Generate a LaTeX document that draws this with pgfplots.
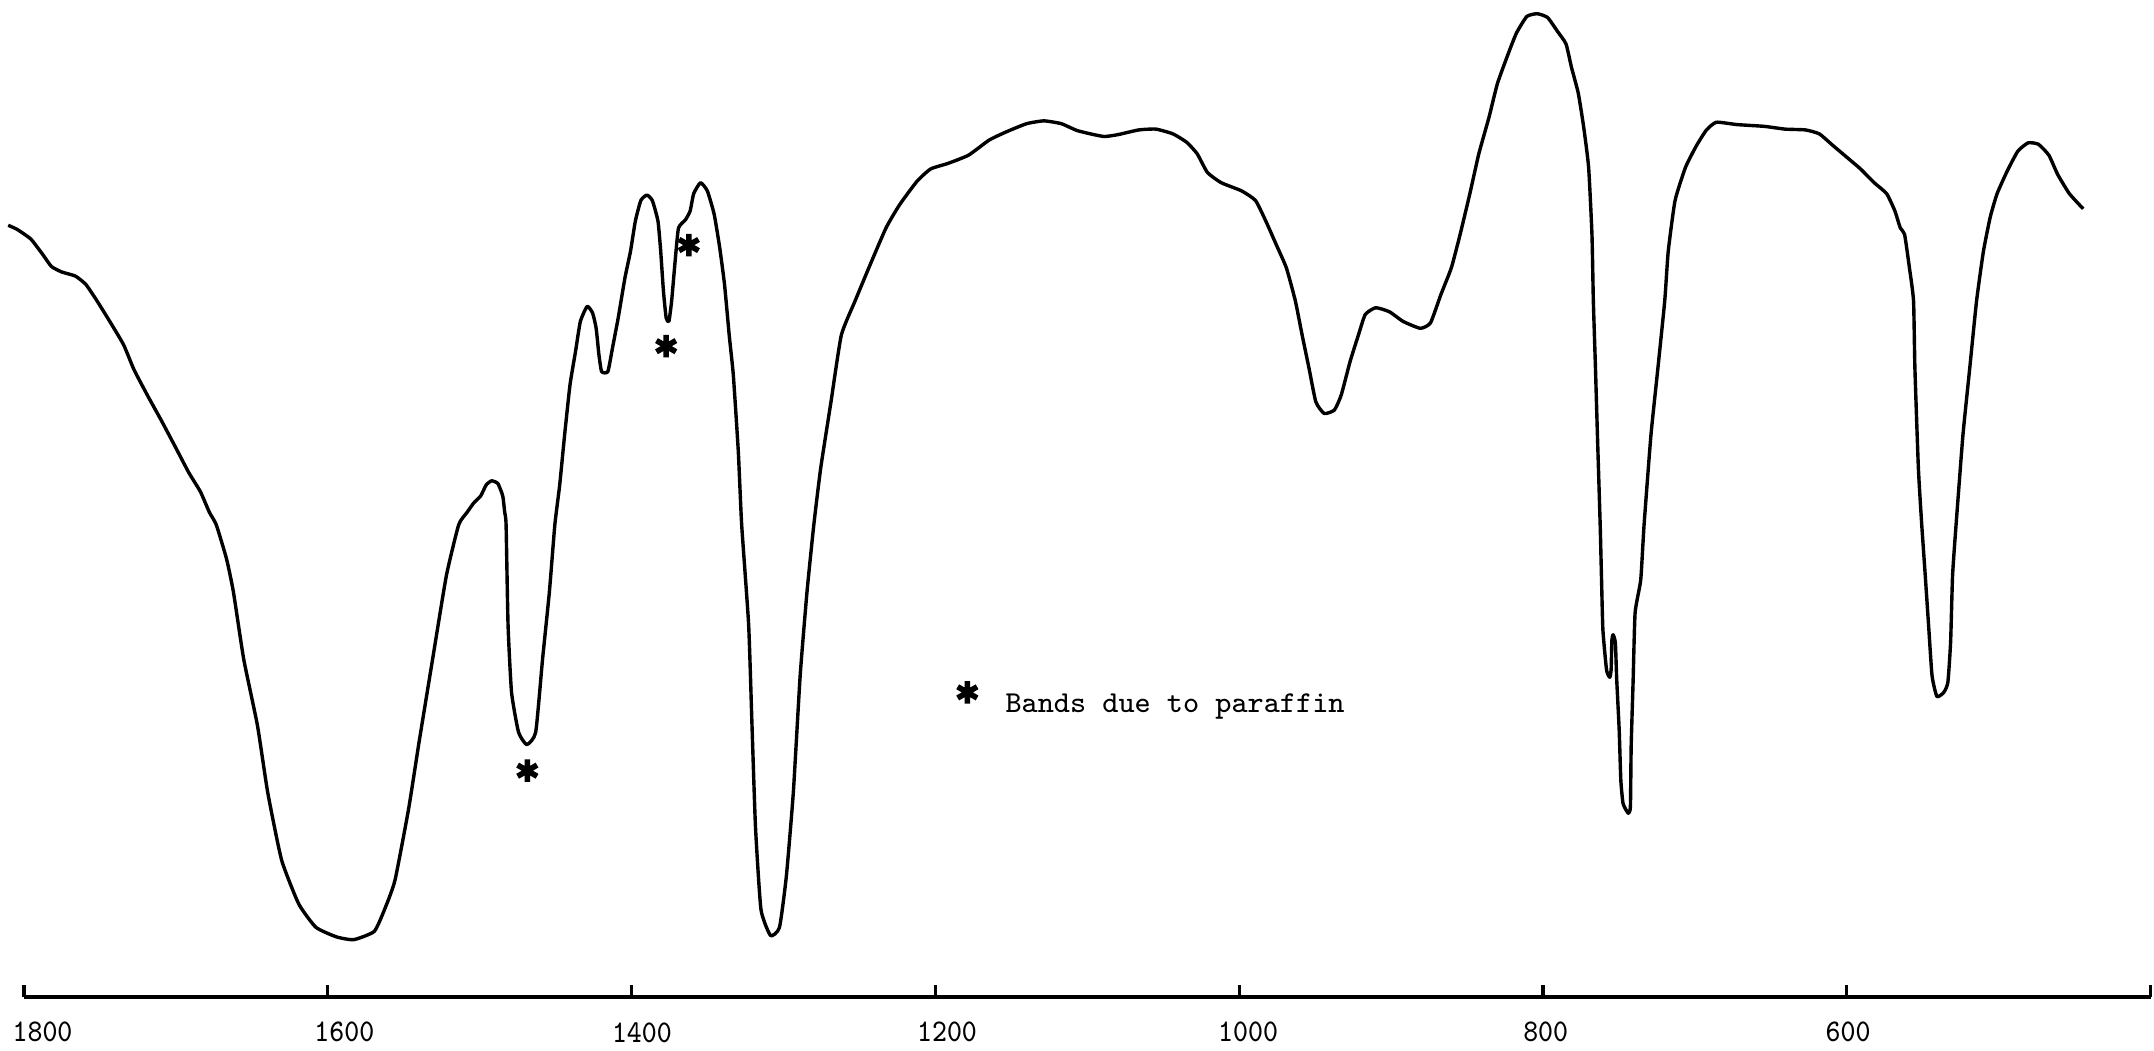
\documentclass[border=0pt]{standalone}
\usepackage{fontspec}
\usepackage{pgfplots}
\pgfplotsset{compat=1.18}
\newcommand{\tl}[1]{\scalebox{0.89}[1]{#1}}
\begin{document}
\begin{tikzpicture}
\begin{axis}[
  scale only axis,
  width=531.6pt, height=249.26pt,
  x dir=reverse,
  xmin=400, xmax=1800, ymin=-3.8, ymax=722,
  enlargelimits=false,
  clip=false,
  axis x line=bottom, axis y line=none,
  axis line style={-, line width=0.9pt},
  xtick={1800,1600,1400,1200,1000,800,600,400},
  xticklabels={{},{},{},{},{},{},{},{}},
  xtick align=inside,
  major tick length=3pt,
  tick style={line width=0.8pt, black},
  extra x ticks={1787.8,1589.1,1393.2,1192.3,994.1,798.2,599.1},
  extra x tick labels={\tl{1800},\tl{1600},\tl{1400},\tl{1200},\tl{1000},\tl{800},\tl{600}},
  extra x tick style={major tick length=0pt, tick style={draw=none}},
  /pgf/number format/assume math mode=true,
  xticklabel style={font=\fontsize{7.9}{9}\ttfamily, anchor=north, inner sep=0pt, yshift=-6.1pt},
]
\addplot[black, line width=0.85pt, line join=round, smooth, tension=0.3] coordinates {
(1810.4,558) (1804.5,555) (1795.5,548) (1787.8,537) (1781.9,528) (1775.1,524)
(1766.1,521) (1759.3,515) (1752.5,504) (1743.5,488) (1734.4,471) (1727.6,453)
(1718.6,434) (1709.6,416) (1700.5,397) (1691.5,378) (1683.8,364) (1677.9,349)
(1673.4,340) (1666.6,315) (1662.1,291) (1655.3,242) (1646.3,194) (1639.5,145)
(1630.4,96) (1619.1,64) (1607.8,47) (1594.2,40) (1582.9,38) (1569.4,44)
(1562.6,60) (1555.8,81) (1546.8,133) (1540.0,181) (1531.0,242) (1521.9,303)
(1513.8,340) (1508.3,349) (1503.8,356) (1499.3,361) (1495.7,369) (1492.1,372)
(1488.0,370) (1484.8,361) (1483.5,349) (1482.6,340) (1481.3,267) (1479.0,218)
(1474.4,189) (1469.0,180) (1463.1,189) (1458.6,242) (1454.1,291) (1450.5,340)
(1447.3,369) (1444.1,405) (1440.5,442) (1436.9,466) (1433.7,488) (1429.2,499)
(1425.6,494) (1423.3,483) (1421.5,464) (1419.7,451.5) (1415.6,451.5) (1412.5,469)
(1408.8,490.5) (1404.3,520) (1400.7,539) (1397.5,561) (1393.9,576) (1389.9,580)
(1386.3,576) (1382.6,561) (1380.8,539) (1379.0,510) (1377.2,490.5) (1375.4,488)
(1373.6,503) (1371.3,532) (1369.1,556) (1364.5,562) (1361.4,568.5) (1359.1,581)
(1354.6,589) (1350.1,583) (1345.6,566) (1342.0,542) (1338.8,515) (1335.7,478)
(1333.0,449) (1329.7,393) (1327.5,340) (1322.9,267) (1320.7,194) (1318.4,120)
(1314.8,60) (1308.5,41) (1302.6,47) (1298.1,84) (1293.5,145) (1289.0,230)
(1284.5,291) (1280.0,340) (1275.5,381) (1268.7,429.5) (1261.9,478) (1252.8,503)
(1243.8,527) (1232.5,556) (1223.5,573) (1212.1,590) (1203.1,599) (1191.8,603)
(1178.2,609) (1164.6,620) (1153.3,626) (1139.8,632) (1128.5,634) (1117.2,632)
(1106.8,627) (1097.7,624.5) (1088.7,622.6) (1079.7,624) (1066.1,627.4) (1054.8,628)
(1043.5,624.5) (1034.5,618.4) (1027.6,610) (1020.9,596.5) (1011.8,589) (998.3,583)
(989.2,576) (982.4,561) (975.6,544) (968.9,527) (963.0,503) (958.5,478)
(954.0,454) (949.5,429.5) (944.0,421) (937.3,423.5) (932.8,434.4) (926.9,459)
(921.5,478) (917.0,493) (910.1,498) (901.0,495) (892.0,488) (880.7,483)
(874.0,487) (867.2,507.5) (860.3,527) (854.5,551.4) (848.1,581) (842.2,610)
(835.4,637) (830.0,661) (822.8,683) (817.4,698) (810.6,710) (803.8,712)
(797.0,709.3) (790.3,699) (784.8,690) (781.2,673) (776.7,654) (773.1,629)
(769.9,600) (767.7,551) (766.8,503) (765.4,454) (764.1,405) (762.3,340)
(761.4,300) (760.5,263.4) (758.1,234.3) (756.0,229) (755.1,234.3) (754.6,256)
(753.8,260) (752.3,254) (751.4,227) (749.8,191) (748.7,154) (747.2,137)
(743.8,130) (742.4,135) (741.9,178.5) (740.6,227) (739.3,276) (735.6,300)
(733.4,340) (728.9,405) (724.3,454) (719.8,503) (717.5,539) (713.0,576)
(706.2,600) (699.4,615) (692.6,627) (685.9,633) (672.3,631.3) (654.2,630)
(640.6,628) (627.1,627.4) (618.0,624.5) (609.0,616) (599.9,607.5) (590.9,599)
(581.9,589) (573.7,581) (568.3,568.5) (564.7,556) (561.9,551.4) (558.7,527)
(556.0,503) (555.1,454) (552.8,381) (550.6,340) (548.3,303.2) (546.1,267)
(543.8,230) (540.6,215) (536.1,218) (533.4,225.3) (531.6,254.5) (530.3,303.2)
(528.0,340) (523.5,405) (519.0,454) (514.5,503) (510.0,539) (505.5,564)
(501.0,581) (494.1,598) (487.3,612) (480.6,618) (473.8,617) (466.9,609)
(461.1,595) (453.4,581) (444.3,570)
};
\addplot[only marks, mark=asterisk, mark size=2.8pt, black, mark options={line width=1.4pt}] coordinates {
(1468.6,161) (1377.2,470) (1362.3,543.6) (1178.9,218)
};
\node[anchor=base west, inner sep=0pt, font=\fontsize{7.6}{9}\ttfamily] at (axis cs:1154.3,203.3) {Bands due to paraffin};
\coordinate (bbl) at (axis cs:1815.8,-43);
\coordinate (btr) at (axis cs:397.7,722);
\end{axis}
\pgfresetboundingbox
\path[use as bounding box] (bbl) rectangle (btr);
\end{tikzpicture}
\end{document}
